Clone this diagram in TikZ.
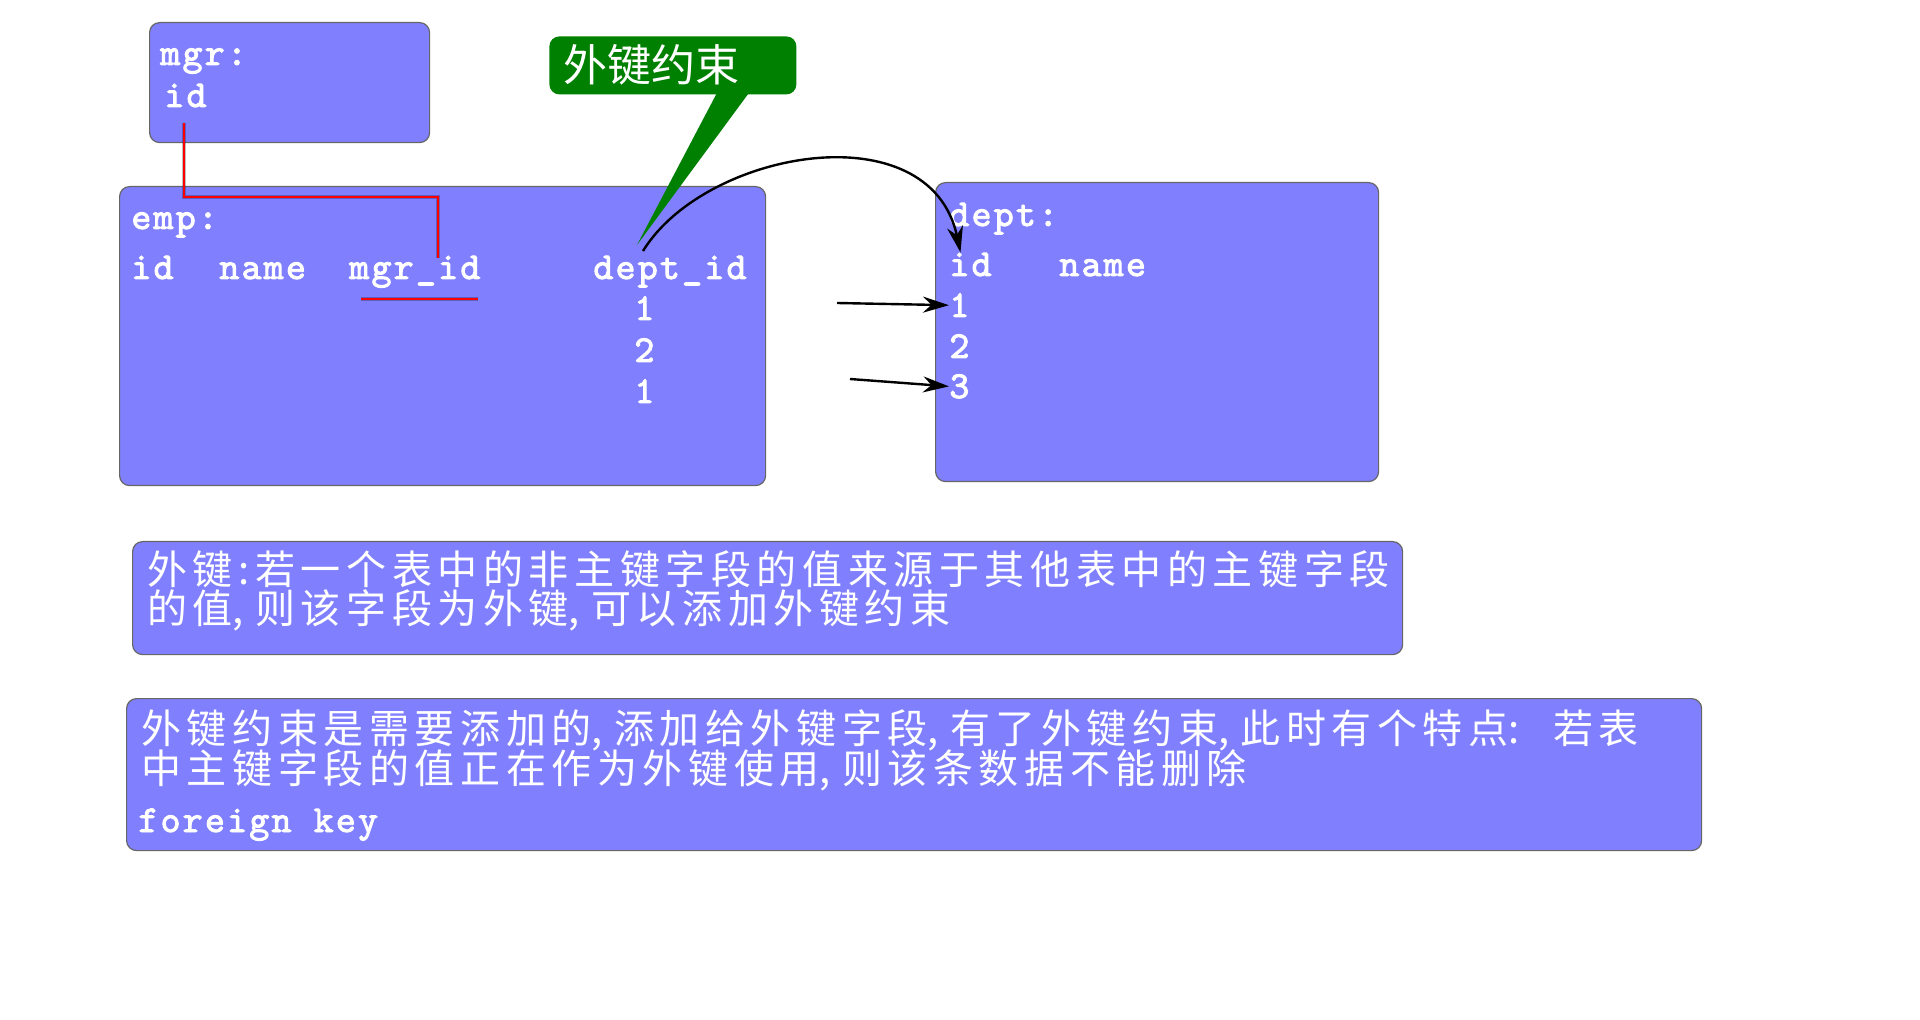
\documentclass[tikz,border=0pt]{standalone}
\usepackage{fontspec}
\usetikzlibrary{arrows.meta}
\newfontfamily\cjks{Noto Sans CJK SC}[LetterSpace=14]
\newfontfamily\cjk{Noto Sans CJK SC}
\newfontfamily\lmmono{lmmono10-regular.otf}[LetterSpace=5.9, FakeBold=2.5]
\definecolor{boxblue}{HTML}{8080FF}
\definecolor{calloutgreen}{HTML}{008000}
\newcommand\hw[1]{\makebox[11.2pt][l]{#1}}
\newcommand\hwc[1]{\makebox[11.2pt][c]{#1}}
\tikzset{
  tbox/.style={draw=black!60, line width=0.6pt, fill=boxblue, rounded corners=5pt, anchor=north west, inner sep=0pt},
  mtext/.style={text=white, font=\lmmono\fontsize{19}{20}\selectfont, anchor=base west, inner sep=0pt},
  ctext/.style={text=white, font=\cjks\fontsize{20}{22}\selectfont, anchor=base west, inner sep=0pt},
  calltext/.style={text=white, font=\cjk\fontsize{22}{24}\selectfont, anchor=base west, inner sep=0pt},
  arr/.style={-{Stealth[length=13pt,width=8pt]}, line width=1.2pt, black},
  redln/.style={red, line width=1.4pt},
  redsh/.style={black, opacity=0.25, line width=1.8pt},
}
\begin{document}
\begin{tikzpicture}[x=0.5pt,y=-0.5pt]
\useasboundingbox[fill=white] (0,0) rectangle (1920,1020);

% boxes
\node[tbox, minimum width=140pt, minimum height=60pt] (mgr) at (149,22) {};
\node[tbox, minimum width=323pt, minimum height=149.5pt] (emp) at (119,186) {};
\node[tbox, minimum width=221.5pt, minimum height=149.5pt] (dept) at (935,182) {};
\node[tbox, minimum width=635pt, minimum height=56.5pt] (note1) at (132,541) {};
\node[tbox, minimum width=787.5pt, minimum height=76pt] (note2) at (126,698) {};

% mgr texts
\node[mtext] (mlabel) at (160,65) {mgr:};
\node[mtext] (mid) at (164,107) {id};

% emp texts
\node[mtext] (elabel) at (131,229) {emp:};
\node[mtext] (eid) at (131,279) {id};
\node[mtext] (ename) at (219,279) {name};
\node[mtext] (emgr) at (349,279) {mgr\_id};
\node[mtext] (edept) at (593,279) {dept\_id};
\node[mtext] (ev1) at (634,320) {1};
\node[mtext] (ev2) at (634,362) {2};
\node[mtext] (ev3) at (634,403) {1};

% dept texts
\node[mtext] (dlabel) at (949,226) {dept:};
\node[mtext] (did) at (949,276) {id};
\node[mtext] (dname) at (1059,276) {name};
\node[mtext] (d1) at (949,317) {1};
\node[mtext] (d2) at (949,358) {2};
\node[mtext] (d3) at (949,398) {3};

% callout
\node[fill=calloutgreen, rounded corners=5pt, anchor=north west, inner sep=0pt,
      minimum width=123.5pt, minimum height=29pt] (callout) at (549,36) {};
\coordinate (ctip) at (637,245);
\fill[calloutgreen] ([xshift=84pt,yshift=1pt]callout.south west) -- ([xshift=100pt,yshift=1pt]callout.south west) -- (ctip) -- cycle;
\node[calltext] (ctext) at (563,82) {外键约束};

% red connector mgr.id -> emp.mgr_id
\coordinate (rstart) at (184,123);
\coordinate (rturn) at (438,197);
\coordinate (rend) at (438,258);
\coordinate (ul1) at (361,299);
\coordinate (ul2) at (478,299);
\begin{scope}[shift={(3,4)}]
\draw[redsh] (rstart) |- (rturn) -- (rend);
\draw[redsh] (ul1) -- (ul2);
\end{scope}
\draw[redln] (rstart) |- (rturn) -- (rend);
\draw[redln] (ul1) -- (ul2);

% black arrows
\coordinate (cstart) at (643,251);
\draw[arr] (cstart) .. controls (705,150) and (930,110) .. ([xshift=-5pt]did.north);
\coordinate (a1s) at (837,303);
\coordinate (a2s) at (850,379);
\draw[arr] (a1s) -- (d1.west);
\draw[arr] (a2s) -- (d3.west);

% notes
\node[ctext] (n1a) at (147,585) {外键\hwc{:}若一个表中的非主键字段的值来源于其他表中的主键字段};
\node[ctext] (n1b) at (147,624) {的值\hw{,}则该字段为外键\hw{,}可以添加外键约束};
\node[ctext] (n2a) at (141,743) {外键约束是需要添加的\hw{,}添加给外键字段\hw{,}有了外键约束\hw{,}此时有个特点\hw{:}\hspace{11.2pt}若表};
\node[ctext] (n2b) at (141,783) {中主键字段的值正在作为外键使用\hw{,}则该条数据不能删除};
\node[mtext] (n2c) at (138,832) {foreign key};
\end{tikzpicture}
\end{document}
